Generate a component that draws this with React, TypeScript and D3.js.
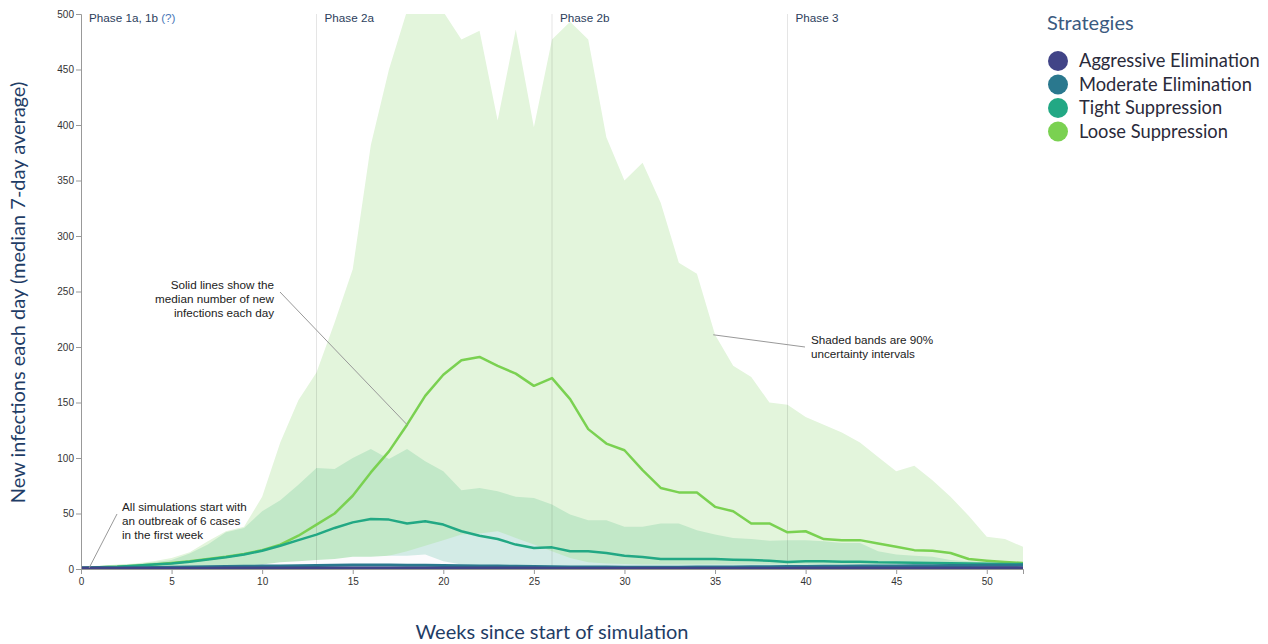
import { useEffect, useRef } from "react";
import * as d3 from "d3";

// weeks since start of simulation
const weeks = d3.range(0, 53);

const strategies = [
  "Aggressive Elimination",
  "Moderate Elimination",
  "Tight Suppression",
  "Loose Suppression",
];
const colors = ["#414487", "#2a788e", "#22a884", "#7ad151"];
const bandFills = ["#fcfbfd", "#d3ebe6", "#c2e8c8", "#e3f5dc"];

const phaseWeeks = [0, 13, 26, 39];
const phaseLabels = ["Phase 1a, 1b", "Phase 2a", "Phase 2b", "Phase 3"];

const xTicks = [0, 5, 10, 15, 20, 25, 30, 35, 40, 45, 50];
const yTicks = [0, 50, 100, 150, 200, 250, 300, 350, 400, 450, 500];

// medians (7-day average)
const aggressiveMedian = [
  0.8, 0.8, 0.7, 0.7, 0.7, 0.7, 0.7, 0.7, 0.8, 0.8, 0.8, 0.9, 0.9, 1, 1, 1,
  1, 1, 1, 1, 0.9, 0.9, 0.9, 0.8, 0.8, 0.8, 0.7, 0.7, 0.7, 0.7, 0.6, 0.6,
  0.6, 0.6, 0.6, 0.6, 0.6, 0.7, 0.7, 0.7, 0.8, 0.8, 0.8, 0.8, 0.9, 0.9, 0.9,
  1, 1, 1, 1.1, 1.1, 1.2,
];
const moderateMedian = [
  1, 1, 1, 1.2, 1.4, 1.6, 1.8, 2, 2.2, 2.4, 2.6, 2.8, 3, 3.2, 3.4, 3.5, 3.5,
  3.5, 3.4, 3.3, 3.2, 3, 2.8, 2.6, 2.4, 2.2, 2, 1.9, 1.8, 1.7, 1.6, 1.6, 1.6,
  1.6, 1.7, 1.8, 1.9, 2, 2.1, 2.2, 2.3, 2.4, 2.5, 2.6, 2.7, 2.8, 2.9, 3, 3.1,
  3.2, 3.3, 3.4, 3.5,
];
const tightMedian = [
  1, 1.5, 2, 3, 4, 5, 6.5, 8.5, 10.5, 13, 16.5, 21, 26, 31, 37, 42, 45, 44.5,
  41, 43, 40, 34, 30, 27, 22, 19, 19.5, 16, 16, 14.4, 12, 10.8, 9, 9, 9, 9,
  8.4, 8, 7.5, 6.3, 7, 7, 6.6, 6.6, 6, 5.8, 5.6, 5.4, 5.2, 5, 4.8, 4.6, 4.5,
];
const looseMedian = [
  1, 1.5, 2, 3, 4, 5.5, 7, 9, 11, 13.5, 17, 22, 30, 40, 50, 66, 87, 106, 130,
  156, 175, 188, 191, 183, 176, 165, 172, 153, 126, 113, 107, 89, 73, 69, 69,
  56, 52, 41, 41, 33, 34, 27, 26, 26, 23, 20, 17, 16.5, 14.4, 9, 7.5, 6.3, 5.4,
];

// 90% uncertainty intervals (upper bounds; lower bounds near zero)
const aggressiveUpper = [
  1, 1, 1, 1, 1.2, 1.4, 1.6, 1.8, 2, 3, 4, 6, 7, 8, 9, 11, 11, 12, 12, 13, 7,
  4, 3, 2.5, 2.2, 2, 2, 2, 2, 2, 2, 2, 2, 2, 2, 2, 2, 2, 2, 2, 2, 2, 2, 2, 2,
  2, 2, 2, 2, 2, 2, 2, 2,
];
const moderateUpper = [
  1.5, 1.5, 1.8, 2, 2.2, 2.4, 2.6, 2.8, 3, 3.2, 3.5, 4, 5, 6, 7, 8, 10, 12, 16,
  21, 26, 31, 32, 34, 28, 22, 16, 10, 6, 5, 4.5, 4, 4, 4, 4, 4, 4, 4, 4, 4, 4,
  4, 4, 4.2, 4.4, 4.6, 4.8, 5, 5, 5, 5, 5, 5,
];
const tightUpper = [
  1.5, 2.5, 3.5, 4.5, 6, 8, 14, 22, 33, 37, 52, 62, 76, 91, 90, 100, 108, 99,
  108, 97, 88, 71, 73, 70, 65, 64, 58, 49, 44, 44, 38, 38, 41, 41, 35, 31, 28,
  27, 25.5, 26, 26, 25, 23.4, 23.4, 16, 13, 12, 11, 8, 7, 6, 5.5, 5,
];
const looseUpper = [
  2, 3, 4, 5, 7, 10, 15, 25, 34, 38, 65, 114, 152, 177, 222, 270, 382, 450,
  503, 520, 502, 477, 485, 404, 486, 398, 477, 493, 477, 389, 350, 366, 330,
  276, 266, 211, 183, 173, 150, 148, 137, 130, 123, 114, 101, 88, 93, 80, 65,
  48, 29, 27, 20,
];
const lowerBound = [
  0, 0, 0, 0, 0, 0, 0, 0, 0, 0, 0, 0, 0, 0, 0, 0, 0, 0, 0, 0, 0, 0, 0, 0, 0,
  0, 0, 0, 0, 0, 0, 0, 0, 0, 0, 0, 0, 0, 0, 0, 0, 0, 0, 0, 0, 0, 0, 0, 0, 0,
  0, 0, 0,
];

const medians = [aggressiveMedian, moderateMedian, tightMedian, looseMedian];
const uppers = [aggressiveUpper, moderateUpper, tightUpper, looseUpper];

const W = 1268;
const H = 644;
const margin = { top: 14, right: 245, bottom: 75, left: 81 };

const titleFont = "Lato, 'Open Sans', sans-serif";
const smallFont = "'Liberation Sans', Arial, sans-serif";

export default function App() {
  const xAxisRef = useRef<SVGGElement>(null);
  const yAxisRef = useRef<SVGGElement>(null);

  const x = d3
    .scaleLinear()
    .domain([0, 52])
    .range([margin.left, W - margin.right]);
  const y = d3
    .scaleLinear()
    .domain([0, 500])
    .range([H - margin.bottom, margin.top]);

  useEffect(() => {
    const xa = d3
      .select(xAxisRef.current)
      .call(d3.axisBottom(x).tickValues(xTicks).tickSize(5).tickPadding(4));
    const ya = d3
      .select(yAxisRef.current)
      .call(d3.axisLeft(y).tickValues(yTicks).tickSize(5).tickPadding(2));
    [xa, ya].forEach((a) => {
      a.select(".domain").attr("stroke", "#999");
      a.selectAll(".tick line").attr("stroke", "#999");
      a.selectAll(".tick text")
        .attr("fill", "#333")
        .style("font-family", smallFont)
        .style("font-size", "10px");
    });
  }, []);

  const area = (upper: number[]) =>
    d3
      .area<number>()
      .x((d) => x(d))
      .y0((d) => y(lowerBound[d]))
      .y1((d) => y(upper[d]))(weeks);

  const line = (vals: number[]) =>
    d3
      .line<number>()
      .x((d) => x(d))
      .y((d) => y(vals[d]))(weeks);

  const plotTop = margin.top;
  const plotBottom = H - margin.bottom;

  // draw loose first so the narrower bands sit on top
  const order = [3, 2, 1, 0];

  return (
    <svg
      width={W}
      height={H}
      style={{ position: "absolute", left: 0, top: 0, background: "#fff" }}
    >
      <defs>
        <clipPath id="plot-clip">
          <rect
            x={x(0)}
            y={plotTop}
            width={x(52) - x(0)}
            height={plotBottom - plotTop}
          />
        </clipPath>
      </defs>

      <g clipPath="url(#plot-clip)">
        {order.map((i) => (
          <path key={"band" + i} d={area(uppers[i]) ?? ""} fill={bandFills[i]} />
        ))}
      </g>

      {phaseWeeks.map((w, i) => (
        <g key={"phase" + i}>
          {w > 0 && (
            <line
              x1={x(w)}
              x2={x(w)}
              y1={plotTop}
              y2={plotBottom}
              stroke="#000"
              strokeOpacity={0.1}
              strokeWidth={1}
            />
          )}
          <text
            x={x(w) + 8}
            y={plotTop + 8}
            fontFamily={smallFont}
            fontSize={11.7}
            fill="#2c3e5c"
          >
            {phaseLabels[i]}
            {i === 0 && <tspan fill="#4a78b8"> (?)</tspan>}
          </text>
        </g>
      ))}

      <g clipPath="url(#plot-clip)">
        {order.map((i) => (
          <path
            key={"line" + i}
            d={line(medians[i]) ?? ""}
            fill="none"
            stroke={colors[i]}
            strokeWidth={i < 2 ? 3 : 2.5}
            strokeLinejoin="round"
          />
        ))}
      </g>

      <g ref={xAxisRef} transform={`translate(0,${plotBottom})`} />
      <g ref={yAxisRef} transform={`translate(${margin.left},0)`} />

      {/* annotations */}
      <g fontFamily={smallFont} fontSize={11.7} fill="#222">
        <line x1={117} y1={514} x2={x(0.45)} y2={y(1)} stroke="#999" />
        <text x={122} y={511}>All simulations start with</text>
        <text x={122} y={525}>an outbreak of 6 cases</text>
        <text x={122} y={539}>in the first week</text>

        <line x1={280} y1={292} x2={x(18)} y2={y(130)} stroke="#999" />
        <text x={274} y={289} textAnchor="end">Solid lines show the</text>
        <text x={274} y={303} textAnchor="end">median number of new</text>
        <text x={274} y={317} textAnchor="end">infections each day</text>

        <line x1={x(34.9)} y1={y(211)} x2={805} y2={347} stroke="#999" />
        <text x={811} y={344}>Shaded bands are 90%</text>
        <text x={811} y={358}>uncertainty intervals</text>
      </g>

      {/* axis titles */}
      <text
        x={(x(0) + x(52)) / 2}
        y={639}
        textAnchor="middle"
        fontFamily={titleFont}
        fontSize={20}
        fill="#1f3d66"
      >
        Weeks since start of simulation
      </text>
      <text
        transform={`translate(25,${(plotTop + plotBottom) / 2 + 1}) rotate(-90)`}
        textAnchor="middle"
        fontFamily={titleFont}
        fontSize={20}
        fill="#1f3d66"
      >
        New infections each day (median 7-day average)
      </text>

      {/* legend */}
      <g>
        <text
          x={1047}
          y={30}
          fontFamily={titleFont}
          fontSize={20}
          fill="#3b5a80"
        >
          Strategies
        </text>
        {strategies.map((s, i) => (
          <g key={s} transform={`translate(0,${61 + i * 23.5})`}>
            <circle cx={1058} cy={0} r={10} fill={colors[i]} />
            <text
              x={1079}
              y={6}
              fontFamily={titleFont}
              fontSize={18.3}
              fill="#2a2a3a"
            >
              {s}
            </text>
          </g>
        ))}
      </g>
    </svg>
  );
}
